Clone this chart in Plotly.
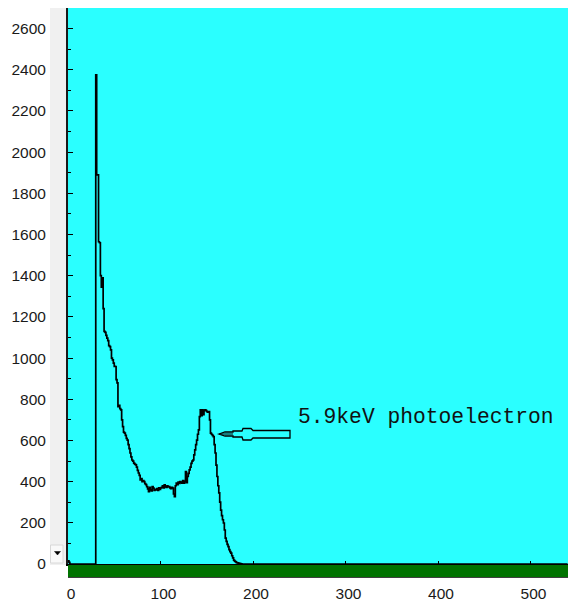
import plotly.graph_objects as go

# ---------------- data (channel, counts) ----------------
channels = [0, 1, 2, 29, 30, 31, 32, 33, 34, 35, 36, 37, 38, 39, 40, 41, 42, 43, 44, 45,
            46, 47, 48, 49, 50, 51, 52, 53, 54, 55, 56, 57, 58, 59, 60, 61, 62, 63, 64, 65,
            66, 67, 68, 69, 70, 71, 72, 73, 74, 75, 76, 77, 78, 79, 80, 81, 82, 83, 84, 85,
            86, 87, 88, 89, 90, 91, 92, 93, 94, 95, 96, 97, 98, 99, 100, 101, 102, 103, 104, 105,
            106, 107, 108, 109, 110, 111, 112, 113, 114, 115, 116, 117, 118, 119, 120, 121, 122, 123, 124, 125,
            126, 127, 128, 129, 130, 131, 132, 133, 134, 135, 136, 137, 138, 139, 140, 141, 142, 143, 144, 145,
            146, 147, 148, 149, 150, 151, 152, 153, 154, 155, 156, 157, 158, 159, 160, 161, 162, 163, 164, 165,
            166, 167, 168, 169, 170, 171, 172, 173, 174, 175, 176, 177, 178, 179, 180, 181, 182, 183, 184, 185,
            186, 187, 188, 540]
counts = [15, 8, 0, 0, 2375, 1890, 1890, 1565, 1560, 1400, 1345, 1390, 1240, 1130, 1125, 1110, 1097, 1085, 1060, 1056,
          1040, 1000, 991, 975, 960, 959, 895, 880, 764, 770, 755, 748, 700, 667, 640, 636, 625, 610, 602, 580,
          560, 539, 520, 505, 500, 490, 485, 481, 470, 455, 442, 430, 408, 415, 400, 405, 400, 390, 385, 376,
          365, 351, 372, 360, 355, 376, 368, 358, 362, 360, 366, 358, 370, 362, 369, 372, 380, 370, 384, 376,
          372, 380, 374, 376, 370, 366, 372, 369, 340, 327, 380, 393, 385, 398, 392, 400, 396, 393, 405, 393,
          400, 449, 395, 425, 440, 457, 470, 489, 500, 505, 530, 554, 580, 602, 630, 651, 716, 748, 720, 748,
          725, 745, 748, 745, 740, 738, 740, 700, 636, 630, 625, 619, 580, 539, 480, 425, 380, 345, 300, 262,
          235, 215, 199, 165, 126, 110, 95, 84, 70, 60, 53, 40, 30, 19, 14, 10, 7, 5, 4, 3,
          2, 1, 0, 0]

x_ticks = [0, 100, 200, 300, 400, 500]
y_ticks = [0, 200, 400, 600, 800, 1000, 1200, 1400, 1600, 1800, 2000, 2200, 2400, 2600]
annotation_text = "5.9keV photoelectron"

# ---------------- layout geometry (pixels) ----------------
W, H = 568, 603
PL, PR, PT, PB = 68, 568, 8, 564


def px(x):
    return (x - PL) / (PR - PL)


def py(y):
    return (PB - y) / (PB - PT)


def path_from(points):
    s = "M " + " L ".join(f"{px(a):.5f},{py(b):.5f}" for a, b in points) + " Z"
    return s


fig = go.Figure()
fig.add_trace(go.Scatter(
    x=channels, y=counts, mode="lines", line_shape="hv",
    line=dict(color="#000000", width=1.7), hoverinfo="x+y", showlegend=False,
))

arrow_pts = [(219, 434), (225, 432), (233, 432), (233, 431), (242, 431), (243, 428.5), (251, 428.5),
             (253, 430.5), (290, 430.5), (290, 438), (253, 438), (251, 440), (243, 440), (242, 437),
             (233, 437), (233, 436), (225, 436)]

shapes = [
    # grey strip left of the y axis
    dict(type="rect", xref="paper", yref="paper", x0=px(50), x1=px(67), y0=py(565), y1=py(PT),
         fillcolor="#F0F0F0", line=dict(width=0), layer="below"),
    # small dropdown button
    dict(type="rect", xref="paper", yref="paper", x0=px(50.5), x1=px(63), y0=py(563), y1=py(545),
         fillcolor="#F9F9F9", line=dict(color="#D8D8D8", width=1), layer="above"),
    dict(type="path", xref="paper", yref="paper",
         path=path_from([(54.5, 551.5), (60.5, 551.5), (57.5, 555)]),
         fillcolor="#000000", line=dict(color="#000000", width=0.5), layer="above"),
    # green bar under the x axis
    dict(type="rect", xref="paper", yref="paper", x0=px(68), x1=px(568), y0=py(577.5), y1=py(565),
         fillcolor="#007300", line=dict(width=0), layer="above"),
    dict(type="line", xref="paper", yref="paper", x0=px(68), x1=px(568), y0=py(577.5), y1=py(577.5),
         line=dict(color="#404040", width=1.2), layer="above"),
    # hollow arrow pointing at the photo-peak
    dict(type="path", xref="paper", yref="paper", path=path_from(arrow_pts),
         fillcolor="rgba(0,0,0,0)", line=dict(color="#000000", width=1.3), layer="above"),
    dict(type="line", xref="paper", yref="paper", x0=px(219), x1=px(233), y0=py(434), y1=py(434),
         line=dict(color="#000000", width=1), layer="above"),
]

fig.update_layout(
    width=W, height=H,
    margin=dict(l=PL, r=W - PR, t=PT, b=H - PB, pad=0, autoexpand=False),
    paper_bgcolor="#FFFFFF",
    plot_bgcolor="#2AFFFF",
    showlegend=False,
    shapes=shapes,
    font=dict(family="Liberation Sans, Arial, sans-serif", size=15, color="#1A1A1A"),
    annotations=[dict(
        text=annotation_text, xref="paper", yref="paper",
        x=px(296), y=py(417), xanchor="left", yanchor="middle", showarrow=False,
        font=dict(family="Liberation Mono, Courier New, monospace", size=21.3, color="#111111"),
    )],
)

fig.update_xaxes(
    range=[0, 540.5], tickvals=x_ticks, ticktext=[str(v) for v in x_ticks],
    ticks="inside", ticklen=3, tickwidth=1.2, tickcolor="#000000",
    showline=True, linecolor="#000000", linewidth=2, automargin=False,
    showgrid=False, zeroline=False, ticklabelstandoff=14, ticklabelshift=3,
    tickfont=dict(size=15.5, color="#1A1A1A"),
)
fig.update_yaxes(
    range=[0, 2700], tickvals=y_ticks, ticktext=[str(v) for v in y_ticks],
    ticks="inside", ticklen=5, tickwidth=1.2, tickcolor="#000000",
    minor=dict(ticks="inside", ticklen=3, tickwidth=1, tickcolor="#000000", dtick=100, showgrid=False),
    showline=True, linecolor="#1A1A1A", linewidth=2, automargin=False,
    showgrid=False, zeroline=False, ticklabelstandoff=17,
    tickfont=dict(size=15.5, color="#1A1A1A"),
)

fig.write_html("out.html")
